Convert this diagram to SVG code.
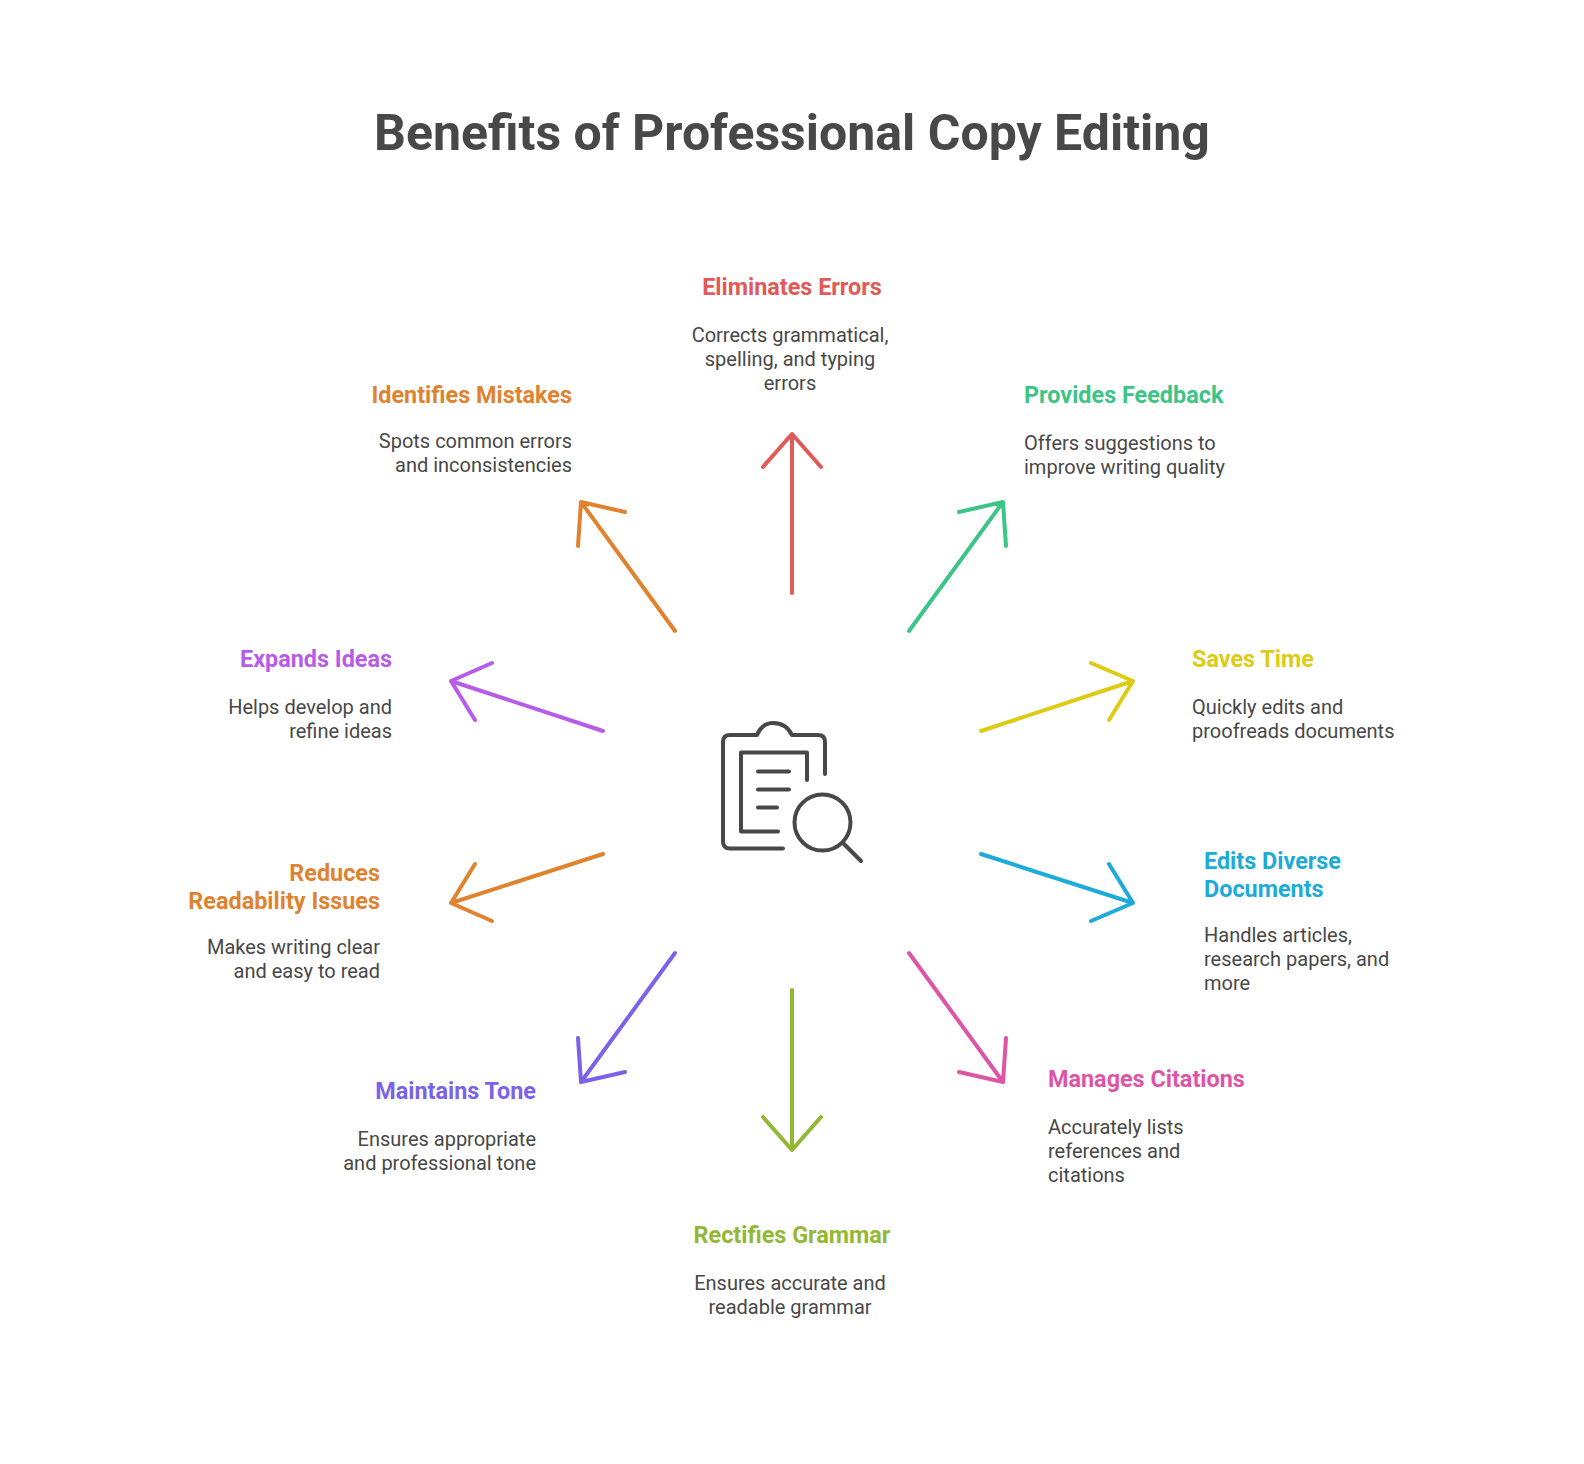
<svg xmlns="http://www.w3.org/2000/svg" width="1584" height="1464" viewBox="0 0 1584 1464">
<style>
text{font-family:Roboto,"Liberation Sans",sans-serif}
.t{font-size:50px;font-weight:700;fill:#484848}
.h{font-size:23.4px;font-weight:700}
.b{font-size:20px;fill:#484848}
.e{text-anchor:end}.m{text-anchor:middle}
.a{fill:none;stroke-width:4;stroke-linecap:round;stroke-linejoin:round}
.i{fill:none;stroke:#484848;stroke-width:4;stroke-linecap:round;stroke-linejoin:round}
</style>
<rect width="1584" height="1464" fill="#fff"/>
<text id="title" class="t m" x="792" y="150">Benefits of Professional Copy Editing</text>
<g id="connectors">
<path class="a" stroke="#e25a57" d="M792 593V434M763 467L792 434L821 467"/>
<path class="a" stroke="#3dc487" d="M909 631L1003 502M959 512L1003 502L1006 546"/>
<path class="a" stroke="#decb14" d="M981 731L1133 681M1091 663L1133 681L1109 720"/>
<path class="a" stroke="#1eabda" d="M981 854L1133 903M1109 864L1133 903L1091 921"/>
<path class="a" stroke="#dd55a5" d="M909 953L1003 1082M1006 1038L1003 1082L959 1072"/>
<path class="a" stroke="#93b833" d="M792 990V1150M763 1117L792 1150L821 1117"/>
<path class="a" stroke="#7b62e8" d="M675 953L581 1082M625 1072L581 1082L578 1038"/>
<path class="a" stroke="#e0832f" d="M603 854L451 903M475 864L451 903L492 921"/>
<path class="a" stroke="#b65ce8" d="M603 731L451 681M492 663L451 681L475 720"/>
<path class="a" stroke="#e0832f" d="M675 631L581 502M625 512L581 502L578 546"/>
</g>
<g id="icon" class="i">
<path d="M825 774V742Q825 735 818 735H792Q786 723 773 723Q762 723 757 735H730Q723 735 723 742V841.500Q723 848.500 730 848.500H783"/>
<path d="M807 780V752.500H741V831.500H778"/>
<path d="M758 771.500H789M758 789.500H789M758 807.500H777"/>
<circle cx="822.500" cy="822.500" r="28"/>
<path d="M843 843L861 861"/>
</g>
<g id="n1"><text class="h m" x="792" y="295" fill="#e25a57">Eliminates Errors</text><text class="b m" x="790" y="342">Corrects grammatical,</text><text class="b m" x="790" y="366">spelling, and typing</text><text class="b m" x="790" y="390">errors</text></g>
<g id="n2"><text class="h" x="1024" y="403" fill="#3dc487">Provides Feedback</text><text class="b" x="1024" y="450">Offers suggestions to</text><text class="b" x="1024" y="474">improve writing quality</text></g>
<g id="n3"><text class="h" x="1192" y="667" fill="#decb14">Saves Time</text><text class="b" x="1192" y="714">Quickly edits and</text><text class="b" x="1192" y="738">proofreads documents</text></g>
<g id="n4"><text class="h" x="1204" y="869" fill="#1eabda">Edits Diverse</text><text class="h" x="1204" y="897" fill="#1eabda">Documents</text><text class="b" x="1204" y="942">Handles articles,</text><text class="b" x="1204" y="966">research papers, and</text><text class="b" x="1204" y="990">more</text></g>
<g id="n5"><text class="h" x="1048" y="1087" fill="#dd55a5">Manages Citations</text><text class="b" x="1048" y="1134">Accurately lists</text><text class="b" x="1048" y="1158">references and</text><text class="b" x="1048" y="1182">citations</text></g>
<g id="n6"><text class="h m" x="792" y="1243" fill="#93b833">Rectifies Grammar</text><text class="b m" x="790" y="1290">Ensures accurate and</text><text class="b m" x="790" y="1314">readable grammar</text></g>
<g id="n7"><text class="h e" x="536" y="1099" fill="#7b62e8">Maintains Tone</text><text class="b e" x="536" y="1146">Ensures appropriate</text><text class="b e" x="536" y="1170">and professional tone</text></g>
<g id="n8"><text class="h e" x="380" y="881" fill="#e0832f">Reduces</text><text class="h e" x="380" y="909" fill="#e0832f">Readability Issues</text><text class="b e" x="380" y="954">Makes writing clear</text><text class="b e" x="380" y="978">and easy to read</text></g>
<g id="n9"><text class="h e" x="392" y="667" fill="#b65ce8">Expands Ideas</text><text class="b e" x="392" y="714">Helps develop and</text><text class="b e" x="392" y="738">refine ideas</text></g>
<g id="n10"><text class="h e" x="572" y="403" fill="#e0832f">Identifies Mistakes</text><text class="b e" x="572" y="448">Spots common errors</text><text class="b e" x="572" y="472">and inconsistencies</text></g>
</svg>
